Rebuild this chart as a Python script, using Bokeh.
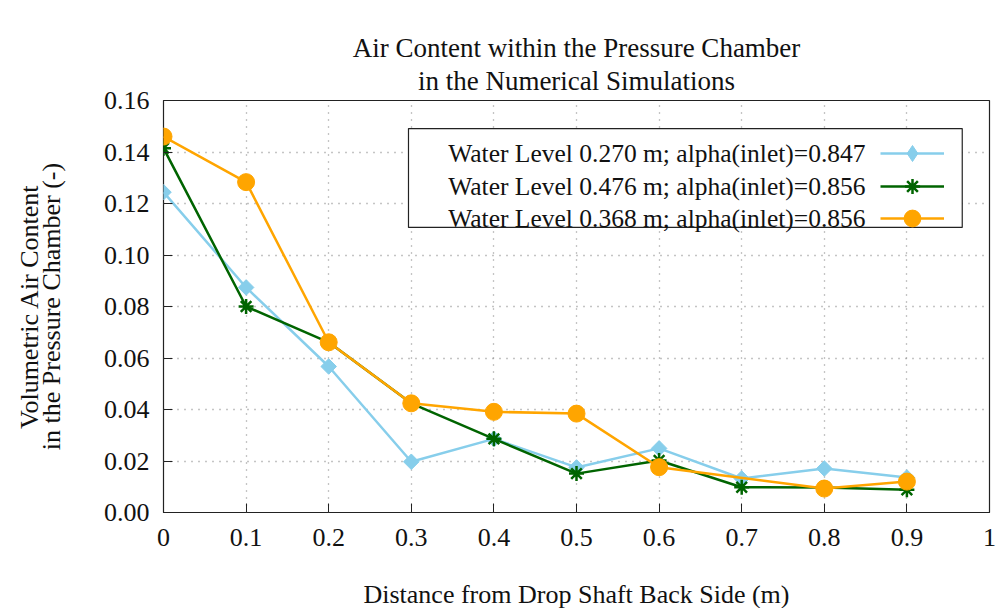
from bokeh.plotting import figure
from bokeh.models import (FixedTicker, Range1d, Legend, LegendItem,
                          Label, BoxAnnotation, PrintfTickFormatter, Title)
from bokeh.embed import file_html
from bokeh.resources import INLINE

# ---- data ----
x_blue = [0.0, 0.1, 0.2, 0.3, 0.4, 0.5, 0.6, 0.7, 0.8, 0.9]
y_blue = [0.1244, 0.0874, 0.0567, 0.0197, 0.0286, 0.0175, 0.0249, 0.0132, 0.0171, 0.0136]

x_green = [0.0, 0.1, 0.2, 0.3, 0.4, 0.5, 0.6, 0.7, 0.8, 0.9]
y_green = [0.1415, 0.0800, 0.0661, 0.0424, 0.0286, 0.0151, 0.0202, 0.0098, 0.0097, 0.0088]

x_orange = [0.0, 0.1, 0.2, 0.3, 0.4, 0.5, 0.6, 0.8, 0.9]
y_orange = [0.1460, 0.1283, 0.0661, 0.0424, 0.0391, 0.0384, 0.0176, 0.0093, 0.0120]

labels = ["Water Level 0.270 m; alpha(inlet)=0.847",
          "Water Level 0.476 m; alpha(inlet)=0.856",
          "Water Level 0.368 m; alpha(inlet)=0.856"]

x_ticks = [0, 0.1, 0.2, 0.3, 0.4, 0.5, 0.6, 0.7, 0.8, 0.9, 1]
x_tick_labels = ["0", "0.1", "0.2", "0.3", "0.4", "0.5", "0.6", "0.7", "0.8", "0.9", "1"]
y_ticks = [0.0, 0.02, 0.04, 0.06, 0.08, 0.10, 0.12, 0.14, 0.16]

title_lines = ["Air Content within the Pressure Chamber", "in the Numerical Simulations"]
x_label = "Distance from Drop Shaft Back Side (m)"
y_label = "Volumetric Air Content\nin the Pressure Chamber (-)"

FONT = "Liberation Serif"
BLUE, GREEN, ORANGE = "#87ceeb", "#006400", "#ffa500"
TXT = "#111111"

p = figure(output_backend="svg", toolbar_location=None, title=None,
           frame_width=826, frame_height=412,
           x_range=Range1d(0, 1), y_range=Range1d(0, 0.16),
           min_border_left=163, min_border_right=8, min_border_top=100, min_border_bottom=96)
p.background_fill_color = "white"
p.border_fill_color = "white"
p.outline_line_color = "#222222"
p.outline_line_width = 1.2

# two-line title, each line centred over the plot frame
t2 = Title(text=title_lines[1], align="center", text_font=FONT, text_font_size="27px",
           text_font_style="normal", text_color=TXT, standoff=10)
t1 = Title(text=title_lines[0], align="center", text_font=FONT, text_font_size="27px",
           text_font_style="normal", text_color=TXT, standoff=-8)
p.add_layout(t2, "above")
p.add_layout(t1, "above")

# axes
xa = p.xaxis[0]
xa.ticker = FixedTicker(ticks=x_ticks)
xa.major_label_overrides = {t: l for t, l in zip(x_ticks, x_tick_labels)}
ya = p.yaxis[0]
ya.ticker = FixedTicker(ticks=y_ticks)
ya.formatter = PrintfTickFormatter(format="%.2f")
for ax in (xa, ya):
    ax.major_tick_in = 9
    ax.major_tick_out = 0
    ax.minor_tick_line_color = None
    ax.major_tick_line_color = "#222222"
    ax.axis_line_color = None
    ax.major_label_text_font = FONT
    ax.major_label_text_font_size = "26px"
    ax.major_label_text_color = TXT
    ax.axis_label_text_font = FONT
    ax.axis_label_text_font_size = "26px"
    ax.axis_label_text_font_style = "normal"
    ax.axis_label_text_color = TXT
xa.axis_label = x_label
ya.axis_label = y_label
xa.major_label_standoff = 16
xa.axis_label_standoff = 31
ya.major_label_standoff = 14
ya.axis_label_standoff = 35
ya.axis_label_text_align = "center"
ya.axis_label_text_line_height = 0.75

# grid
for g in (p.xgrid[0], p.ygrid[0]):
    g.grid_line_color = "#8a8a8a"
    g.grid_line_dash = "1 6"
    g.grid_line_width = 1.3
p.xgrid[0].ticker = FixedTicker(ticks=x_ticks)
p.ygrid[0].ticker = FixedTicker(ticks=y_ticks)

# series
lb = p.line(x_blue, y_blue, line_color=BLUE, line_width=2.5)
sb = p.scatter(x_blue, y_blue, marker="square", angle=0.785398, size=11,
               fill_color=BLUE, line_color=BLUE)
# diamond version of the blue markers, used only as the legend sample
sb_key = p.scatter(x_blue, y_blue, marker="diamond", size=14,
                   fill_color=BLUE, line_color=BLUE, visible=False)
lg = p.line(x_green, y_green, line_color=GREEN, line_width=2.5)
sg = p.scatter(x_green, y_green, marker="asterisk", size=15,
               line_color=GREEN, line_width=2.5)
lo = p.line(x_orange, y_orange, line_color=ORANGE, line_width=2.5)
so = p.scatter(x_orange, y_orange, marker="circle", size=17,
               fill_color=ORANGE, line_color=ORANGE)

# legend box and texts (text right-aligned, sample on the right)
box = BoxAnnotation(left=0.2966, right=0.967, top=0.1491, bottom=0.1107,
                    fill_color="white", fill_alpha=1.0,
                    line_color="#222222", line_width=1.2, line_alpha=1.0)
p.add_layout(box)
for lab, yy in zip(labels, [0.1394, 0.1266, 0.1142]):
    p.add_layout(Label(x=0.850, y=yy, text=lab, text_align="right", text_baseline="middle",
                       text_font=FONT, text_font_size="25.5px", text_color=TXT))

keys = [([lb, sb_key], 40, 339), ([lg, sg], 38, 307), ([lo, so], 42, 273)]
for rends, gh, ybot in keys:
    leg = Legend(items=[LegendItem(label=" ", renderers=rends)],
                 location=(717, ybot), orientation="vertical",
                 glyph_width=64, glyph_height=gh, label_height=gh, label_width=1,
                 label_standoff=0, label_text_font_size="1px",
                 spacing=0, padding=0, margin=0,
                 border_line_color=None, background_fill_alpha=0)
    p.add_layout(leg, "center")

open("out.html", "w").write(file_html(p, INLINE))
